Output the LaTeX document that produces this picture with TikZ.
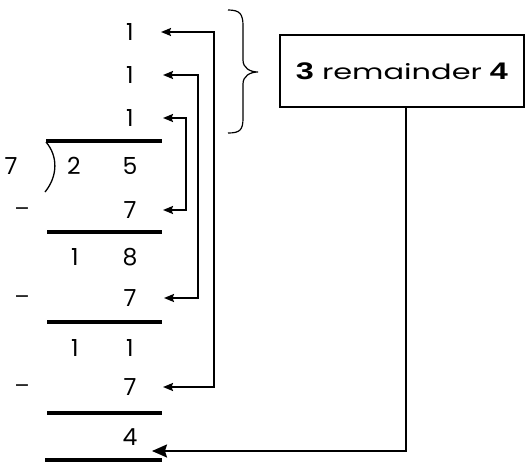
\documentclass[tikz,border=0pt]{standalone}
\usepackage{fontspec}
\setmainfont{Poppins}
\newfontfamily\boldnum[FakeStretch=1.35]{Liberation Sans}
\newfontfamily\widefont[FakeStretch=1.45]{Poppins}
\newfontfamily\symfont{DejaVu Sans}
\usetikzlibrary{arrows.meta}
\begin{document}
\begin{tikzpicture}[x=1pt,y=-1pt,
  digit/.style={inner sep=0pt,font=\fontsize{23.5}{23.5}\selectfont},
  minus/.style={inner sep=0pt,font=\symfont\fontsize{19}{19}\selectfont},
  bar/.style={line width=3.2pt},
  link/.style={line width=1.9pt,{Stealth[length=10pt,width=8pt,inset=1.5pt]}-{Stealth[length=10pt,width=8pt,inset=1.5pt]}},
  result/.style={draw,line width=1.2pt,minimum width=244pt,minimum height=72pt,inner sep=0pt}]
\useasboundingbox (0,0) rectangle (525,463);

% quotient digits
\node[digit] (q1) at (130,32) {1};
\node[digit] (q2) at (130,75) {1};
\node[digit] (q3) at (130,118) {1};

% divisor, bracket and dividend
\draw[bar] (46,141) -- (162,141);
\draw[line width=1.3pt] (46,142) .. controls (58,156) and (58,176) .. (45,192);
\node[digit] (dv) at (11,166) {7};
\node[digit] (d1) at (74,166) {2};
\node[digit] (d2) at (130,166) {5};

% first subtraction
\node[minus] (m1) at (22,211) {−};
\node[digit] (s1) at (130,210) {7};
\draw[bar] (47,232) -- (162,232);
\node[digit] (a1) at (75,257) {1};
\node[digit] (a2) at (130,257) {8};

% second subtraction
\node[minus] (m2) at (22,299) {−};
\node[digit] (s2) at (130,298) {7};
\draw[bar] (47,322) -- (162,322);
\node[digit] (b1) at (75,348) {1};
\node[digit] (b2) at (130,348) {1};

% third subtraction
\node[minus] (m3) at (22,388) {−};
\node[digit] (s3) at (130,387) {7};
\draw[bar] (47,413) -- (162,413);
\node[digit] (rem) at (130,437) {4};
\draw[bar] (45,460) -- (162,460);

% end points of the rails, just right of the digits
\coordinate (q1e) at ([xshift=31pt]q1.center);
\coordinate (q2e) at ([xshift=33pt]q2.center);
\coordinate (q3e) at ([xshift=33pt]q3.center);
\coordinate (s1e) at ([xshift=33pt]s1.center);
\coordinate (s2e) at ([xshift=34pt]s2.center);
\coordinate (s3e) at ([xshift=33pt]s3.center);
\coordinate (reme) at ([xshift=22pt,yshift=-14pt]rem.center);

% rails linking each quotient digit to its subtraction
\coordinate (r1) at (214,0);
\coordinate (r2) at (198,0);
\coordinate (r3) at (186,0);
\draw[link] (q1e) -- (q1e -| r1) |- (s3e);
\draw[link] (q2e) -- (q2e -| r2) |- (s2e);
\draw[link] (q3e) -- (q3e -| r3) |- (s1e);

% brace over the quotient
\draw[line width=1.2pt] (228,10) .. controls (240,10) and (243,14) .. (243,26)
  -- (243,60) .. controls (243,68) and (250,72) .. (258,72)
  .. controls (250,72) and (243,76) .. (243,84)
  -- (243,118) .. controls (243,130) and (240,133) .. (228,133);

% result box
\node[result] (res) at (402,71) {{\boldnum\bfseries\fontsize{24}{24}\selectfont 3}\hspace{8pt}{\widefont\fontsize{21}{21}\selectfont remainder}\hspace{8pt}{\boldnum\bfseries\fontsize{24}{24}\selectfont 4}};
\coordinate (drop) at (406,0);
\draw[line width=1.9pt,-{Stealth[length=15pt,width=13pt,inset=2pt]}] (res.south -| drop) |- (reme);
\end{tikzpicture}
\end{document}
